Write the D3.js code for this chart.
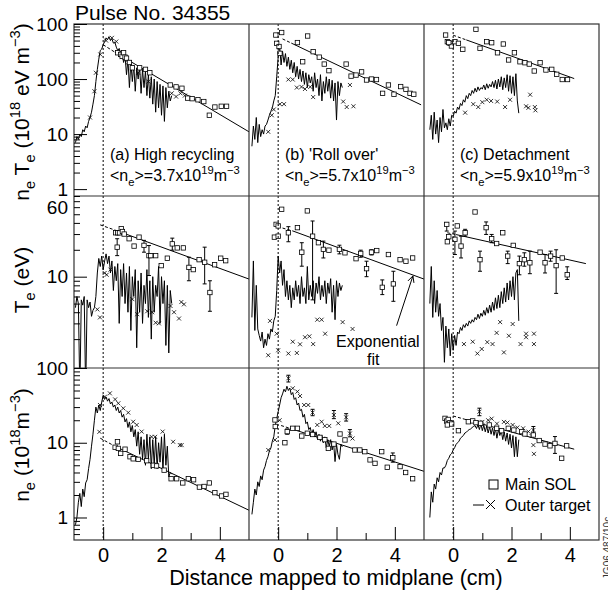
<!DOCTYPE html>
<html>
<head>
<meta charset="utf-8">
<script src="https://cdn.jsdelivr.net/npm/d3@7"></script>
<style>
  body { margin: 0; background: #fff; }
  svg { font-family: "Liberation Sans", Arial, sans-serif; white-space: pre; }
</style>
</head>
<body>
<svg id="chart" width="608" height="596"></svg>
<script>
// probe x positions (cm) for each shot
const gridA = [-0.95,-0.9,-0.85,-0.8,-0.75,-0.7,-0.65,-0.6,-0.55,-0.5,-0.45,-0.4,-0.35,-0.3,-0.25,-0.2,-0.15,-0.1,-0.05,0,
  0.05,0.1,0.15,0.2,0.25,0.3,0.35,0.4,0.45,0.5,0.55,0.6,0.65,0.7,0.75,0.8,0.85,0.9,0.95,1,1.05,1.1,1.15,1.2,1.25,1.3,1.35,1.4,1.45,1.5,
  1.55,1.6,1.65,1.7,1.75,1.8,1.85,1.9,1.95,2,2.05,2.1,2.15,2.2,2.25,2.3,2.35];
const gridB = [-0.9,-0.85,-0.8,-0.75,-0.7,-0.65,-0.6,-0.55,-0.5,-0.45,-0.4,-0.35,-0.3,-0.25,-0.2,-0.15,-0.1,-0.05,0,
  0.05,0.1,0.15,0.2,0.25,0.3,0.35,0.4,0.45,0.5,0.55,0.6,0.65,0.7,0.75,0.8,0.85,0.9,0.95,1,1.05,1.1,1.15,1.2,1.25,1.3,1.35,1.4,1.45,1.5,
  1.55,1.6,1.65,1.7,1.75,1.8,1.85,1.9,1.95,2,2.05,2.1,2.15,2.2];
const gridC = [-0.8,-0.75,-0.7,-0.65,-0.6,-0.55,-0.5,-0.45,-0.4,-0.35,-0.3,-0.25,-0.2,-0.15,-0.1,-0.05,0,
  0.05,0.1,0.15,0.2,0.25,0.3,0.35,0.4,0.45,0.5,0.55,0.6,0.65,0.7,0.75,0.8,0.85,0.9,0.95,1,1.05,1.1,1.15,1.2,1.25,1.3,1.35,1.4,1.45,1.5,
  1.55,1.6,1.65,1.7,1.75,1.8,1.85,1.9,1.95,2,2.05,2.1,2.15,2.2,2.25];

// outer target probe traces
const probeNTa = [7,9,8,10,9,12,11,14,13,17,20,25,35,50,90,150,230,330,350,420,
  480,560,520,590,500,540,450,470,380,330,360,250,300,200,260,120,230,70,200,90,180,60,160,100,170,55,150,70,140,50,
  120,45,110,35,100,25,90,30,80,22,75,17,70,30,60,40,50];
const probeNTb = [6,14,8,20,7,15,9,12,10,14,15,18,22,26,30,40,50,110,250,
  400,180,320,200,290,170,250,150,220,130,200,110,170,100,150,90,140,80,130,70,120,85,110,60,130,70,100,50,120,40,
  90,55,110,60,100,45,95,40,85,18,90,50,85,70];
const probeNTc = [12,22,8,25,10,18,7,20,11,28,13,16,12,19,14,22,21,
  26,24,31,28,36,33,42,38,50,44,55,50,62,55,68,58,72,62,70,66,78,64,82,68,80,72,90,70,95,66,
  100,72,110,64,105,70,120,60,115,55,110,50,125,40,24];
const probeTeA = [4.5,6,5,0.5,5.5,4.8,6,0.5,5.5,4.5,5.2,3.6,4.2,4.5,6,11,16,13,17,12,
  15,18,14,17,11,15,7,13,9,14,3,12,6,14,5,11,4,13,2.5,10,6,12,1.6,9,4,11,3,8,5,12,
  3.5,9,2,10,4,8,6,13,3,10,5,9,1.7,8,1.4,7,5];
const probeTeB = [3.5,15,2.5,8,2.6,2.2,1.9,2.4,1.6,2.0,1.7,2.3,2.0,2.6,2.4,3.2,3.6,7,17,
  11,15,8,12,6,9,5.5,8,4.5,7.5,5.5,9,6,8,5,10,6,7.5,5,13,5.5,8,6,9,5,8.5,6.5,10,5.5,8,
  6,9,5,8.5,6.5,9.5,4,8,3.3,9,6,8.5,7,8];
const probeTeC = [5,13,3.5,9,4,7,3.6,5,2.5,3.5,1.1,2.8,1.6,2.6,1.3,2.3,1.5,
  2.2,1.7,2.4,2.3,2.7,2.5,2.9,2.7,3.0,2.8,3.2,3.0,3.3,3.1,3.5,3.3,3.8,3.4,3.9,3.6,4.2,3.7,4.5,3.9,4.8,4.0,5.2,4.2,5.8,4.4,
  6.2,4.5,6.8,5.0,7.5,5.2,8.5,5.5,9,6,10,5.5,11,12,3.2];
const probeNeA = [0.8,1.0,1.6,2.1,1.4,2.4,1.9,2.9,3.2,4.5,6,9,13,20,30,25,32,27,35,43,
  38,41,36,39,33,35,30,32,27,30,25,27,22,24,19,21,16,19,14,17,12,15,9,14,7,12,6,11,5,13,
  6,12,4.5,11,5,12,4.5,10,5.5,12,4.2,13,5,9,3.5,4.0,3.8];
const probeNeB = [1.1,1.6,2.4,2.0,3.0,2.6,3.6,3.2,4.3,4.8,5.8,6.5,7.8,8.5,10.5,12,17,21,26,
  32,40,45,52,48,57,50,54,44,47,38,40,32,34,27,28,22,24,18,19,15,16,13,15,12,14,11,13,10.5,12.5,
  10,12,8.5,11,9,11,8,10,5.6,9.5,7,6,9.5,8.8];
const probeNeC = [1.0,2.2,1.6,2.8,2.4,3.4,3.0,4.0,3.7,4.6,4.6,5.0,5.8,6.2,6.9,7.2,8,
  8.6,9.5,10,10.5,11.5,12,12.5,13.5,13.8,14.5,15,15.3,16,16.5,17,15.5,17.5,15,18,14.5,17.2,14,16.8,13.5,16.5,13,15.8,12.5,15.5,11.5,
  15,12.5,14.5,11,14,10.5,13.5,9.5,13,8.5,12.5,6.5,12,6.5,11];

// outer target points [x, value, (lo, hi)]
const crossNTa = [[-0.45,20],[-0.3,60],[-0.25,130],[-0.1,280],[0.1,500],[0.3,560],[0.45,480],[0.55,300],[0.65,250],[0.85,200],
  [1.2,130],[1.55,90],[2.35,55],[2.5,48],[2.65,55],[2.8,50]];
const crossNTb = [[-0.34,11],[-0.22,22],[-0.15,28],[0.06,35],[0.2,35],[0.35,98],[0.5,98],[0.64,70],[0.8,72],[0.92,66],
  [1.1,72],[1.2,47],[2.23,39],[2.35,31],[2.46,78],[2.58,32]];
const crossNTc = [[0.41,24.5],[0.69,35],[0.86,31],[1.0,38],[1.15,42],[1.3,40],[1.51,39],[1.78,31],[1.95,42],[2.5,32],
  [2.58,30],[2.64,52],[2.8,31],[2.82,27]];
const crossTeA = [[-0.2,4.3],[-0.11,3.5],[0.05,11],[0.12,10.5],[0.25,12],[1.0,5.6],[1.17,3.8],[1.51,4.1],[1.68,4.0],[1.8,3.05],
  [1.91,3.0],[2.31,4.7],[2.43,4.0],[2.6,3.4],[2.68,5.2],[2.77,4.9]];
const crossTeB = [[-0.34,1.32],[-0.28,3.2],[-0.05,2.3],[0.0,1.5],[0.35,1.38],[0.5,1.87],[0.64,1.4],[0.75,1.75],[0.92,2.1],[1.07,2.15],
  [1.2,1.76],[1.34,3.3],[1.49,3.3],[1.61,2.3],[2.21,3.1],[2.55,2.6]];
const crossTeC = [[0.37,1.76],[0.67,1.87],[0.83,1.38],[0.98,1.55],[1.17,1.85],[1.35,1.76],[1.49,2.35],[1.61,3.1],[1.74,1.42],[1.91,2.18],
  [2.04,2.95],[2.31,1.76],[2.5,2.3],[2.5,2.1],[2.77,2.3],[2.77,1.76]];
const crossNeA = [[-0.13,14],[-0.11,32],[0.06,41.3],[0.23,45.8],[0.41,38],[0.52,33.7],[0.69,28.9],[0.86,25.3],[1.03,19.1],[1.15,17.3],
  [1.32,14.1],[1.66,12],[1.78,12],[2.04,14.1],[2.4,10.3],[2.63,9.3],[2.69,9.3]];
const crossNeB = [[-0.34,8],[-0.11,10.9],[0.05,20],[0.35,72.8,65,80],[0.5,53.5],[0.66,48.3],[0.75,42.2],[0.89,32],[1.03,32],[1.18,25.3,23,28],
  [1.34,17.3],[1.49,19.1],[1.6,16.8],[1.75,16.8],[1.91,23.5,21,27],[2.06,18.2],[2.33,21.9,19.5,24.5],[2.46,13.3,12,15],[2.55,11.4]];
const crossNeC = [[0.9,26,23,29],[1.0,19],[1.2,20],[1.32,21],[1.5,18],[1.74,19],[1.86,18.6],[2.04,17.3],[2.2,16],[2.4,15.6],
  [2.58,14.1],[2.69,12.3],[2.75,9.3],[2.77,7.1],[2.75,14.8,13.5,16.5]];

// main SOL points [x, value, (lo, hi)]
const squareNTa = [[0.5,300],[0.6,280],[0.65,260],[0.7,300],[0.75,250],[0.8,240],[0.9,200],[1.0,160],[1.25,160],[1.45,150],
  [1.6,130],[2.3,78],[2.5,72],[2.7,68],[2.9,45],[3.05,44],[3.25,42],[3.45,39],[3.64,22],[3.83,31],[4.05,32],[4.23,32]];
const squareNTb = [[-0.08,630],[0.12,700],[-0.05,445],[0.03,390],[0.06,293],[0.66,460],[0.84,206],[1.01,605],[1.2,314],[1.41,250],
  [1.58,187],[1.74,142],[2.33,187],[2.5,113],[2.67,118],[2.86,135],[3.03,96],[3.2,100],[3.37,98],[3.58,55],[3.78,78],[3.97,53],
  [4.2,73],[4.38,65],[4.52,55],[4.65,53]];
const squareNTc = [[-0.26,630],[-0.2,477],[-0.11,445],[-0.06,398],[-0.15,460],[0.06,477],[0.18,445],[0.33,347],[0.78,800],[0.92,362],
  [1.15,477],[1.32,457],[1.52,300],[1.72,433],[1.9,222],[2.1,300],[2.29,206],[2.46,198],[2.61,187],[2.78,140],[2.98,198],
  [3.18,146],[3.38,150],[3.55,122],[3.74,98],[3.92,98]];
const squareTeA = [[0.43,31],[0.5,31],[0.56,31],[0.62,34.5],[0.66,32],[0.72,30],[0.48,21.4,17.2,26.6],[0.89,26.6],[1.06,22],[1.23,27.7],
  [1.4,22.4,18.8,25.5],[1.57,17.2,10.3,22.3],[1.63,17.2],[1.8,17.2],[1.99,13.3],[2.2,16.1],[2.37,23.3,19.8,27],[2.54,21],[2.75,21],
  [2.94,12.7,9,16.5],[3.09,12],[3.29,15.5],[3.48,14.5,8.3,21.4],[3.66,6.65,4.1,9],[3.82,13.6],[4.03,16.1],[4.2,15.1]];
const squareTeB = [[0.12,56.8],[1.0,54.5],[-0.07,38.5],[0.0,37],[-0.13,27.7],[0.0,28.4],[0.35,31,24.6,36.3],[0.66,35.4],[0.81,18.8,13.1,24],
  [1.18,28.4,5.5,42],[1.38,24],[1.55,20.2,16.2,25],[1.74,19.8],[2.1,20.2,18,22.5],[2.29,18.5],[2.67,15.9],[2.83,18.2,16.5,19.8],
  [3.03,12.3,10,14.9],[3.2,18.8,17.5,20],[3.38,19.6],[3.57,7.6,6.3,9.2],[3.78,17.7],[3.95,8.3,5.3,11.5],[4.18,15.5],[4.38,14.9],[4.61,16.2]];
const squareTeC = [[0.75,53],[-0.22,38.5,32.4,40.3],[-0.2,24.6],[-0.15,28],[0.06,26.2,17.7,32.4],[0.14,37],[0.27,22,16.2,28.4],
  [0.41,31,28.4,33.9],[0.92,15.5,11.5,19.3],[1.13,35.4,29.7,41],[1.32,26.6,24,29.7],[1.49,23.5],[1.7,31],[1.87,17,14,19.3],[2.06,22.4],
  [2.27,14,10.5,17],[2.44,15.5,13.1,18.5],[2.63,14.3,10.8,19.3],[2.98,18.8],[3.15,14.3,11,17.7],[3.34,17,14.9,19.3],[3.53,13.3,6.5,20],
  [3.74,16.2],[3.91,10.5,9.3,12.9]];
const squareNeA = [[0.49,10.3],[0.41,8.7],[0.52,8.4],[0.6,7.2],[0.75,8.2],[0.92,6.5],[1.03,6.1],[1.2,6.0],[1.49,5.75],[1.72,5.0],
  [1.83,4.9],[2.09,4.3],[2.33,3.3],[2.52,3.3],[2.73,2.9],[2.92,3.3],[3.1,3.2],[3.3,2.55],[3.46,2.6],[3.64,2.9],[3.83,2.15],
  [4.06,1.94],[4.21,2.04]];
const squareNeB = [[-0.11,20.2],[-0.1,16.5],[0.23,10.0],[0.31,14.1,13,15.3],[0.5,15.6],[0.66,15.6],[0.81,12.3],[1.0,13.4],[1.18,12.9],
  [1.43,11.8],[1.6,11],[1.72,8.4],[1.91,9.6],[2.12,13.1],[2.29,10.9],[2.63,8.0],[2.8,8.0],[2.97,7.6],[3.15,5.9],[3.32,5.3],[3.55,7.6],
  [3.74,4.7],[3.93,6.3,5.5,7.3],[4.18,4.8],[4.37,4.0],[4.61,3.3]];
const squareNeC = [[-0.28,21.2],[-0.22,19.5],[-0.17,20.5],[-0.11,18.5],[-0.05,17.8],[-0.2,17.3],[0.18,14.5],[0.52,19.1],[0.67,19.6],
  [0.78,18.6],[0.94,18.2],[1.24,17.3],[1.49,15.6],[1.66,14.5],[1.89,15.6],[2.08,14.8],[2.35,14.1],[2.46,13.1],[2.75,12.7],[2.95,10.7],
  [3.15,9.6],[3.32,9.1],[3.49,9.8,7.2,12.1],[3.72,6.2],[3.89,9.1]];

// exponential fits: dashed from point 0 to 1, solid from 1 to 2
const fitNTa = [[0,420],[0.4,308],[5,11]];
const fitNTb = [[0.15,536],[0.45,450],[4.9,34]];
const fitNTc = [[0,625],[0.45,514],[4.15,102]];
const fitTeA = [[-0.1,38],[0.43,33],[5,9.4]];
const fitTeB = [[0.15,35],[0.5,32.5],[5,9.4]];
const fitTeC = [[-0.2,31],[0.1,29.6],[4.55,14]];
const fitNeA = [[-0.1,11.5],[0.4,9.0],[5,1.25]];
const fitNeB = [[0.1,17],[0.4,15.6],[5,4.15]];
const fitNeC = [[0,22.8],[0.4,20.6],[4.15,8.2]];

// axis ticks
const xMajorTicks = [0, 2, 4];
const xMinorTicks = [1, 3];
const xTickLabels = ["0", "2", "4"];
const yMajorTicks = [[1, 10, 100, 1000], [10], [1, 10, 100]];
const yMinorTicks = [
  [2,3,4,5,6,7,8,9,20,30,40,50,60,70,80,90,200,300,400,500,600,700,800,900],
  [2,3,4,5,6,7,8,9,20,30,40,50,60,70,80],
  [0.6,0.7,0.8,0.9,2,3,4,5,6,7,8,9,20,30,40,50,60,70,80,90]];
const yLabelValues = [[1, 10, 100, 1000], [10, 60], [1, 10, 100]];
const yLabelTexts = [["1", "10", "100", "100"], ["10", "60"], ["1", "10", "100"]];

const panelTitles = ["(a) High recycling", "(b) 'Roll over'", "(c) Detachment"];
const densityValues = ["3.7", "5.7", "5.9"];

// ---------------------------------------------------------------
const svg = d3.select("#chart");
const colLeft = [74, 249, 424];
const rowTop = [24, 196, 368];
const pw = 175, ph = 172;
const rowDomains = [[0.75, 1000], [0.95, 80], [0.5, 100]];
const grids = [gridA, gridB, gridC];

const panels = [
  {c: 0, r: 0, probe: probeNTa, cross: crossNTa, square: squareNTa, fit: fitNTa},
  {c: 1, r: 0, probe: probeNTb, cross: crossNTb, square: squareNTb, fit: fitNTb},
  {c: 2, r: 0, probe: probeNTc, cross: crossNTc, square: squareNTc, fit: fitNTc},
  {c: 0, r: 1, probe: probeTeA, cross: crossTeA, square: squareTeA, fit: fitTeA},
  {c: 1, r: 1, probe: probeTeB, cross: crossTeB, square: squareTeB, fit: fitTeB},
  {c: 2, r: 1, probe: probeTeC, cross: crossTeC, square: squareTeC, fit: fitTeC},
  {c: 0, r: 2, probe: probeNeA, cross: crossNeA, square: squareNeA, fit: fitNeA},
  {c: 1, r: 2, probe: probeNeB, cross: crossNeB, square: squareNeB, fit: fitNeB},
  {c: 2, r: 2, probe: probeNeC, cross: crossNeC, square: squareNeC, fit: fitNeC}
];

const xScales = colLeft.map(l => d3.scaleLinear().domain([-1, 5]).range([l, l + pw]));
const yScales = rowTop.map((t, r) => d3.scaleLog().domain(rowDomains[r]).range([t + ph, t]));

const defs = svg.append("defs");
defs.append("marker").attr("id", "arrow")
    .attr("viewBox", "-8 -5 10 10").attr("markerWidth", 9).attr("markerHeight", 9)
    .attr("orient", "auto").attr("markerUnits", "userSpaceOnUse")
  .append("path").attr("d", "M-7,-3.5L0,0L-7,3.5").attr("fill", "none").attr("stroke", "#000").attr("stroke-width", 1);

function errBars(g, pts, x, y) {
  pts.filter(d => d.length > 2).forEach(d => {
    const px = x(d[0]);
    g.append("path")
      .attr("d", `M${px},${y(d[2])}V${y(d[3])}M${px - 2},${y(d[2])}H${px + 2}M${px - 2},${y(d[3])}H${px + 2}`)
      .attr("stroke", "#000").attr("stroke-width", 1).attr("fill", "none");
  });
}

panels.forEach((p, k) => {
  const x = xScales[p.c], y = yScales[p.r];
  defs.append("clipPath").attr("id", "clip" + k)
    .append("rect").attr("x", colLeft[p.c]).attr("y", rowTop[p.r]).attr("width", pw).attr("height", ph);
  const g = svg.append("g").attr("clip-path", `url(#clip${k})`);
  const line = d3.line().x(d => x(d[0])).y(d => y(d[1]));

  // fit
  g.append("path").attr("d", line(p.fit.slice(0, 2)))
    .attr("fill", "none").attr("stroke", "#000").attr("stroke-width", 1).attr("stroke-dasharray", "3,2");
  g.append("path").attr("d", line(p.fit.slice(1)))
    .attr("fill", "none").attr("stroke", "#000").attr("stroke-width", 1);

  // probe trace
  const pts = grids[p.c].map((xv, i) => [xv, p.probe[i]]);
  g.append("path").attr("d", line(pts))
    .attr("fill", "none").attr("stroke", "#000").attr("stroke-width", 1).attr("stroke-linejoin", "round");

  // outer target crosses
  errBars(g, p.cross, x, y);
  g.selectAll(".cross").data(p.cross).join("path")
    .attr("transform", d => `translate(${x(d[0])},${y(d[1])})`)
    .attr("d", "M-2,-2L2,2M-2,2L2,-2")
    .attr("stroke", "#000").attr("stroke-width", 0.8);

  // main SOL squares
  errBars(g, p.square, x, y);
  g.selectAll(".sq").data(p.square).join("rect")
    .attr("x", d => x(d[0]) - 2.2).attr("y", d => y(d[1]) - 2.2)
    .attr("width", 4.4).attr("height", 4.4)
    .attr("fill", "#fff").attr("stroke", "#000").attr("stroke-width", 0.8);
});

// separatrix lines
xScales.forEach(x => {
  svg.append("line").attr("x1", x(0)).attr("x2", x(0)).attr("y1", rowTop[0]).attr("y2", rowTop[2] + ph)
    .attr("stroke", "#000").attr("stroke-width", 1).attr("stroke-dasharray", "2,2");
});

// frames
const frame = svg.append("g").attr("stroke", "#333").attr("stroke-width", 1.2).attr("fill", "none");
frame.append("rect").attr("x", colLeft[0]).attr("y", rowTop[0]).attr("width", 3 * pw).attr("height", 3 * ph);
colLeft.slice(1).forEach(l => frame.append("line").attr("x1", l).attr("x2", l).attr("y1", rowTop[0]).attr("y2", rowTop[2] + ph));
rowTop.slice(1).forEach(t => frame.append("line").attr("x1", colLeft[0]).attr("x2", colLeft[0] + 3 * pw).attr("y1", t).attr("y2", t));

// left axes
yScales.forEach((y, r) => {
  const g = svg.append("g").attr("transform", `translate(${colLeft[0]},0)`);
  g.append("g").call(d3.axisLeft(y).tickValues(yMajorTicks[r]).tickSize(-13).tickFormat(""));
  g.append("g").call(d3.axisLeft(y).tickValues(yMinorTicks[r]).tickSize(-6).tickFormat(""));
  g.append("g").call(d3.axisLeft(y).tickValues(yLabelValues[r]).tickSize(0).tickPadding(6)
    .tickFormat((d, i) => yLabelTexts[r][i]));
  g.selectAll(".domain").remove();
  g.selectAll("line").attr("stroke", "#000");
  g.selectAll("text").attr("font-size", 19).attr("font-family", null).attr("fill", "#000");
});

// bottom axes
xScales.forEach(x => {
  const g = svg.append("g").attr("transform", `translate(0,${rowTop[2] + ph})`);
  g.append("g").call(d3.axisBottom(x).tickValues(xMajorTicks).tickSize(-13).tickFormat(""));
  g.append("g").call(d3.axisBottom(x).tickValues(xMinorTicks).tickSize(-7).tickFormat(""));
  g.append("g").call(d3.axisBottom(x).tickValues(xMajorTicks).tickSize(0).tickPadding(8)
    .tickFormat((d, i) => xTickLabels[i]));
  g.selectAll(".domain").remove();
  g.selectAll("line").attr("stroke", "#000");
  g.selectAll("text").attr("font-size", 20).attr("font-family", null).attr("fill", "#000");
});

// text with sub/superscripts
function richText(sel, parts, size) {
  let shift = 0;
  parts.forEach(([t, kind]) => {
    const target = kind === "sub" ? size * 0.3 : kind === "sup" ? -size * 0.42 : 0;
    sel.append("tspan").attr("dy", target - shift).attr("font-size", kind ? size * 0.7 : size).text(t);
    shift = target;
  });
}

svg.append("text").attr("x", 75).attr("y", 20).attr("font-size", 21).text("Pulse No. 34355");

richText(svg.append("text").attr("text-anchor", "middle").attr("transform", "translate(29,112) rotate(-90)"),
  [["n", ""], ["e", "sub"], [" T", ""], ["e", "sub"], [" (10", ""], ["18", "sup"], [" eV m", ""], ["\u22123", "sup"], [")", ""]], 21);
richText(svg.append("text").attr("text-anchor", "middle").attr("transform", "translate(29,280) rotate(-90)"),
  [["T", ""], ["e", "sub"], [" (eV)", ""]], 21);
richText(svg.append("text").attr("text-anchor", "middle").attr("transform", "translate(29,445) rotate(-90)"),
  [["n", ""], ["e", "sub"], [" (10", ""], ["18", "sup"], ["m", ""], ["\u22123", "sup"], [")", ""]], 21);

svg.append("text").attr("x", 336).attr("y", 585)
  .attr("text-anchor", "middle").attr("font-size", 21.5).text("Distance mapped to midplane (cm)");

// panel annotations
colLeft.forEach((l, c) => {
  svg.append("text").attr("x", l + 36).attr("y", 160).attr("font-size", 16).text(panelTitles[c]);
  richText(svg.append("text").attr("x", l + 36).attr("y", 181),
    [["<n", ""], ["e", "sub"], [">=" + densityValues[c] + "x10", ""], ["19", "sup"], ["m", ""], ["\u22123", "sup"]], 16);
});

// exponential fit pointer
svg.append("text").attr("x", 336).attr("y", 347).attr("font-size", 16).text("Exponential");
svg.append("text").attr("x", 367).attr("y", 365).attr("font-size", 16).text("fit");
svg.append("line")
  .attr("x1", xScales[1](4.06)).attr("y1", yScales[1](2.83))
  .attr("x2", xScales[1](4.62)).attr("y2", yScales[1](10.2))
  .attr("stroke", "#000").attr("stroke-width", 1).attr("marker-end", "url(#arrow)");

// legend
const lg = svg.append("g");
lg.append("rect").attr("x", 489).attr("y", 480).attr("width", 9).attr("height", 9)
  .attr("fill", "none").attr("stroke", "#000").attr("stroke-width", 1);
lg.append("text").attr("x", 505).attr("y", 490).attr("font-size", 16).text("Main SOL");
lg.append("path").attr("d", "M473,505H484M486,500L495,509M486,509L495,500")
  .attr("fill", "none").attr("stroke", "#000").attr("stroke-width", 1);
lg.append("text").attr("x", 505).attr("y", 511).attr("font-size", 16).text("Outer target");

svg.append("text").attr("transform", "translate(611,548) rotate(-90)")
  .attr("text-anchor", "middle").attr("font-size", 10).attr("fill", "#333").text("JG06.487/10c");
</script>
</body>
</html>
